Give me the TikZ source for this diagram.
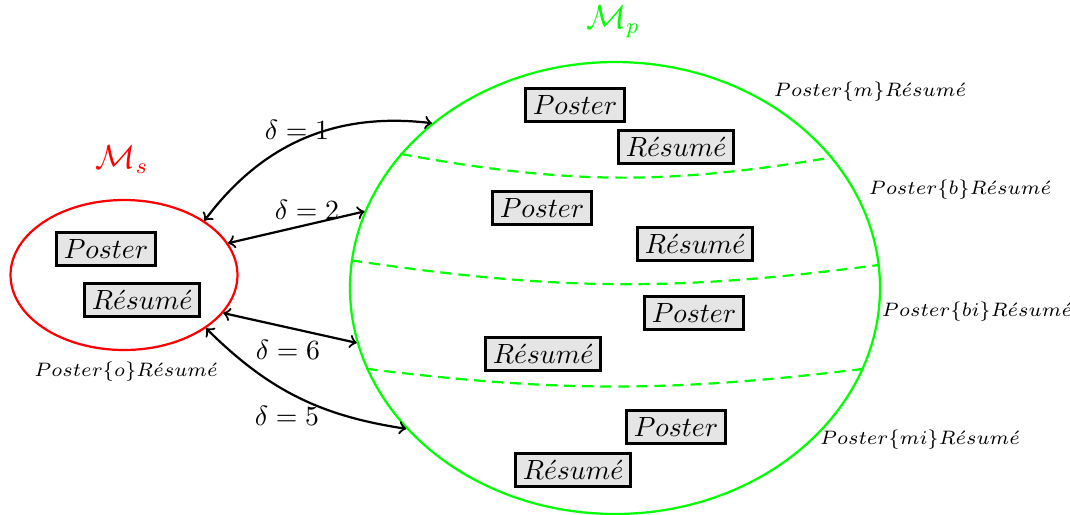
\documentclass[tikz,border=0pt]{standalone}
\usetikzlibrary{shapes.geometric}
\newcommand{\Res}{R\acute{e}sum\acute{e}}
\begin{document}
\begin{tikzpicture}[x=0.36pt,y=-0.36pt,
  docbox/.style={draw=black,fill=black!10,line width=1pt,inner sep=2.6pt},
  setlab/.style={font=\fontsize{6.9}{8.5}\selectfont},
  arr/.style={<->,thick},
  part/.style={green,thick,dash pattern=on 4pt off 2.5pt},
  ]
\useasboundingbox (0,0) rectangle (1070,514);
% sets
\node[ellipse,draw=red,thick,minimum width=81.7pt,minimum height=54pt,inner sep=0pt] (ms) at (124,275) {};
\node[ellipse,draw=green,thick,minimum width=190.8pt,minimum height=162.7pt,inner sep=0pt] (mp) at (615,288) {};
\node[red,font=\large] (lms) at (122,160) {$\mathcal{M}_s$};
\node[green,font=\large] (lmp) at (613,22) {$\mathcal{M}_p$};
% partitions
\draw[part] (mp.148) to[bend right=10] (mp.31.6);
\draw[part] (mp.174) to[bend right=8] (mp.5.9);
\draw[part] (mp.198.8) to[bend right=7] (mp.-18.4);
% boxes in Ms
\node[docbox] (sp) at (106,249) {$Poster$};
\node[docbox] (sr) at (142,300) {$\Res$};
% boxes in Mp
\node[docbox] (p1) at (575,105) {$Poster$};
\node[docbox] (r1) at (676,147) {$\Res$};
\node[docbox] (p2) at (542,208) {$Poster$};
\node[docbox] (r2) at (695,244) {$\Res$};
\node[docbox] (p3) at (694,313) {$Poster$};
\node[docbox] (r3) at (543,354) {$\Res$};
\node[docbox] (p4) at (676,427) {$Poster$};
\node[docbox] (r4) at (573,470) {$\Res$};
% relation labels
\node[setlab] (lo) at (126,372) {$Poster\{o\}\Res$};
\node[setlab] (lm) at (870,92) {$Poster\{m\}\Res$};
\node[setlab] (lb) at (960,190) {$Poster\{b\}\Res$};
\node[setlab] (lbi) at (977,312) {$Poster\{bi\}\Res$};
\node[setlab] (lmi) at (920,440) {$Poster\{mi\}\Res$};
% connectors
\draw[arr] (ms.34) to[bend left=30] (mp.138.3);
\draw[arr] (ms.17) -- (mp.163.7);
\draw[arr] (ms.-21) -- (mp.192.1);
\draw[arr] (ms.-33) to[bend right=18] (mp.214);
\node (d1) at (297,130) {$\delta = 1$};
\node (d2) at (307,210) {$\delta = 2$};
\node (d6) at (288,350) {$\delta = 6$};
\node (d5) at (287,416) {$\delta = 5$};
\end{tikzpicture}
\end{document}
